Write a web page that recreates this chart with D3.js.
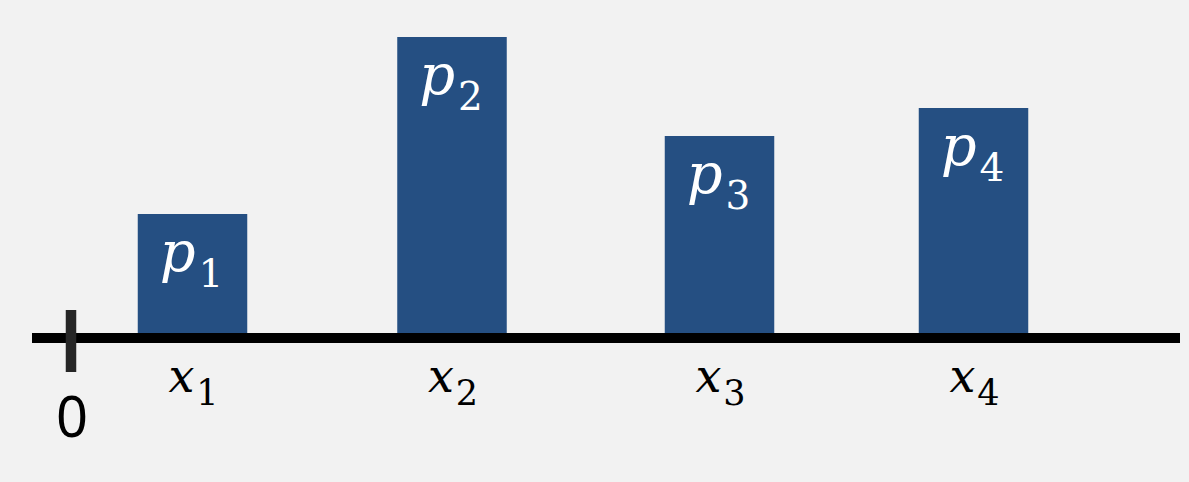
<!DOCTYPE html>
<html>
<head>
<meta charset="utf-8">
<script src="https://cdn.jsdelivr.net/npm/d3@7"></script>
<style>
  html, body { margin: 0; padding: 0; background: #f2f2f2; }
  svg { display: block; }
</style>
</head>
<body>
<script>
// ---- data ----
const barNames   = ["p", "p", "p", "p"];
const barSubs    = ["1", "2", "3", "4"];
const axisNames  = ["x", "x", "x", "x"];
const positions  = [1.215, 3.81, 6.485, 9.025];   // x positions (units)
const heights    = [119, 296, 197, 225];          // bar heights (units)
const originLabel = "0";

// ---- layout ----
const W = 1189, H = 482;
const svg = d3.select("body").append("svg").attr("width", W).attr("height", H);
svg.append("rect").attr("width", W).attr("height", H).attr("fill", "#f2f2f2");

const x = d3.scaleLinear().domain([0, 10]).range([71, 1071]);
const y = d3.scaleLinear().domain([0, 300]).range([333, 33]);
const barW = x(1.095) - x(0);

const data = positions.map((p, i) => ({ pos: p, h: heights[i], name: barNames[i], sub: barSubs[i], xn: axisNames[i] }));

// bars
svg.selectAll("rect.bar").data(data).enter().append("rect")
  .attr("class", "bar")
  .attr("x", d => x(d.pos) - barW / 2)
  .attr("y", d => y(d.h))
  .attr("width", barW)
  .attr("height", d => y(0) - y(d.h))
  .attr("fill", "#254f82");

// axis line
svg.append("line")
  .attr("x1", x(-0.39)).attr("x2", x(11.09))
  .attr("y1", y(0) + 5).attr("y2", y(0) + 5)
  .attr("stroke", "#000").attr("stroke-width", 10);

// origin tick
svg.append("line")
  .attr("x1", x(0)).attr("x2", x(0))
  .attr("y1", 310).attr("y2", 372)
  .attr("stroke", "#262626").attr("stroke-width", 10.5);

svg.append("text")
  .attr("x", x(0) + 1).attr("y", 437)
  .attr("text-anchor", "middle")
  .attr("font-family", "'Noto Sans', sans-serif")
  .attr("font-size", 56)
  .attr("fill", "#000")
  .text(originLabel);

const mathFont = "'DejaVu Serif', serif";

// bar labels p_i
const pl = svg.selectAll("text.plabel").data(data).enter().append("text")
  .attr("class", "plabel")
  .attr("x", d => x(d.pos) - 1)
  .attr("y", d => y(d.h) + 57)
  .attr("text-anchor", "middle")
  .attr("font-family", mathFont)
  .attr("fill", "#ffffff");
pl.append("tspan").attr("font-style", "italic").attr("font-size", 56).text(d => d.name);
pl.append("tspan").attr("font-size", 39).attr("dy", 16).attr("dx", 3).text(d => d.sub);

// axis labels x_i
const xl = svg.selectAll("text.xlabel").data(data).enter().append("text")
  .attr("class", "xlabel")
  .attr("x", d => x(d.pos) + 1)
  .attr("y", 392)
  .attr("text-anchor", "middle")
  .attr("font-family", mathFont)
  .attr("fill", "#000");
xl.append("tspan").attr("font-style", "italic").attr("font-size", 46).text(d => d.xn);
xl.append("tspan").attr("font-size", 35).attr("dy", 13).attr("dx", 2).text(d => d.sub);
</script>
</body>
</html>
